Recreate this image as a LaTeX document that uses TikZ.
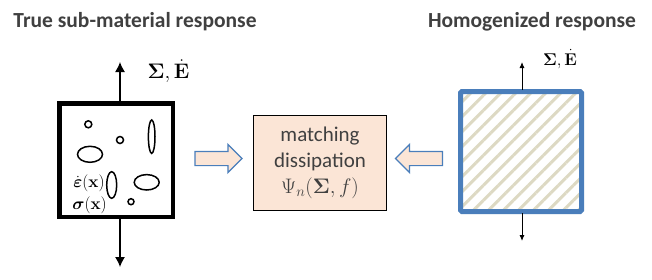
\RequirePackage{fix-cm}
\documentclass[tikz,border=0pt]{standalone}
\usepackage{amsmath}
\usepackage[no-math]{fontspec}
\setmainfont{Carlito}
\usetikzlibrary{arrows.meta,shapes.arrows,patterns.meta}
\definecolor{peach}{HTML}{FBE5D6}
\definecolor{frameblue}{HTML}{4A7EBB}
\definecolor{hatchgray}{HTML}{DDD9C3}
\definecolor{titlegray}{HTML}{404040}
\tikzset{
    title/.style={font=\bfseries\fontsize{21.5}{24}\selectfont, text=titlegray},
    inclusion/.style={draw, line width=1.5pt},
    flowarrow/.style={single arrow, draw=frameblue, fill=peach, line width=1.2pt,
        inner xsep=0pt, inner ysep=6.5pt, minimum height=47pt, minimum width=27pt,
        single arrow head extend=7pt, single arrow head indent=0pt},
    loadarrow/.style={-{Latex[length=10pt,width=10pt]}, line width=1.3pt},
    thinload/.style={-{Latex[length=6pt,width=5pt]}, line width=0.9pt}
}
\begin{document}
\begin{tikzpicture}[x=1pt, y=-1pt]
\useasboundingbox (0,0) rectangle (652,279);
\node[title] (subtitle) at (135,22) {True sub-material response};
\node[title] (homotitle) at (532,22) {Homogenized response};
\node[draw, line width=4.5pt, minimum width=113.5pt, minimum height=113.5pt] (subbox) at (116,160) {};
\node[draw=frameblue, line width=5pt, rounded corners=1.5pt, minimum width=121pt, minimum height=120pt,
    pattern={Lines[angle=45, distance=10.6pt, line width=3pt]}, pattern color=hatchgray] (homobox) at (521,151.5) {};
\node[draw, fill=peach, line width=1.4pt, minimum width=132.5pt, minimum height=94.5pt,
    align=center, text=titlegray, font=\fontsize{21}{26}\selectfont] (match) at (320,163)
    {matching\\dissipation\\$\Psi_n(\boldsymbol{\Sigma},f)$};
\node[flowarrow] (leftflow) at (215,158.5) {};
\node[flowarrow, shape border rotate=180] (rightflow) at (422.5,158.5) {};
% inclusions
\draw[inclusion] (88.3,124.3) circle (3.5);
\draw[inclusion] (120,140) circle (3.5);
\draw[inclusion] (131,201.7) circle (3);
\draw[inclusion] (151.7,136.7) ellipse (3.3 and 16.7);
\draw[inclusion] (90,154.3) ellipse (12.5 and 8);
\draw[inclusion] (111.7,185) ellipse (5 and 13.3);
\draw[inclusion] (146.7,182.3) ellipse (12.5 and 7.7);
\node[font=\fontsize{17}{19}\selectfont, inner sep=0pt] (strainrate) at (89,183.5) {$\dot{\boldsymbol{\varepsilon}}(\mathbf{x})$};
\node[font=\fontsize{17}{19}\selectfont, inner sep=0pt] (stress) at (89.5,205.5) {$\boldsymbol{\sigma}(\mathbf{x})$};
% loading
\coordinate (subtop) at (120,62);
\coordinate (subbot) at (120,267);
\coordinate (homotop) at (522,62);
\coordinate (homobot) at (522,241);
\draw[loadarrow] (subbox.north -| subtop) -- (subtop);
\draw[loadarrow] ([yshift=4pt]subbox.south -| subbot) -- (subbot);
\draw[thinload] (homobox.north -| homotop) -- (homotop);
\draw[thinload] (homobox.south -| homobot) -- (homobot);
\node[font=\fontsize{21}{23}\selectfont, inner sep=0pt] (subload) at (168.5,71) {$\boldsymbol{\Sigma},\dot{\mathbf{E}}$};
\node[font=\fontsize{17}{19}\selectfont, inner sep=0pt] (homoload) at (560,59) {$\boldsymbol{\Sigma},\dot{\mathbf{E}}$};
\end{tikzpicture}
\end{document}
